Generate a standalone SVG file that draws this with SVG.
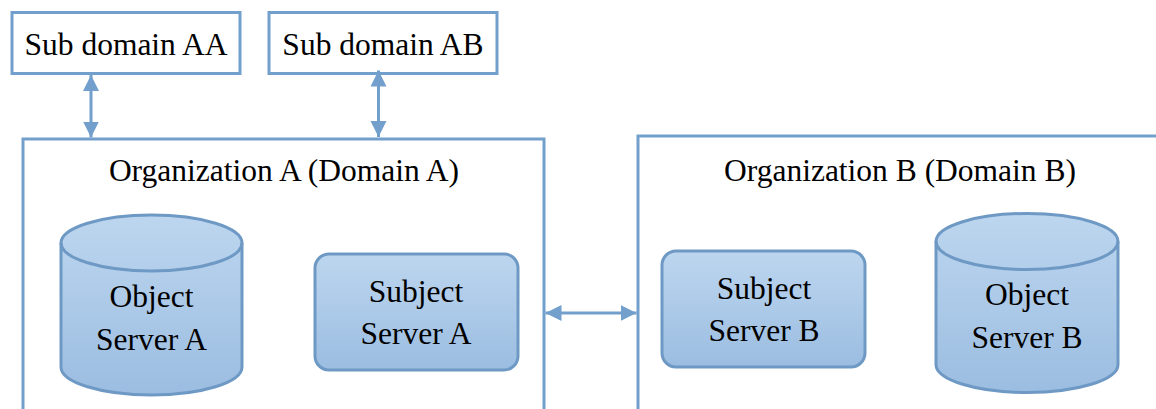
<svg xmlns="http://www.w3.org/2000/svg" width="1156" height="409" viewBox="0 0 1156 409">
<defs>
<linearGradient id="g" x1="0" y1="0" x2="0" y2="1">
<stop offset="0" stop-color="#bdd6ef"/>
<stop offset="1" stop-color="#9bbde1"/>
</linearGradient>
<marker id="ah" markerUnits="userSpaceOnUse" markerWidth="18" markerHeight="18" refX="16" refY="9" orient="auto-start-reverse">
<path d="M0,1 L16,9 L0,17 Z" fill="#729fcb"/>
</marker>
<style>
.box{fill:#fff;stroke:#729fcb;stroke-width:3}
.shape{fill:url(#g);stroke:#6e99c4;stroke-width:3}
.t{font-size:31.5px;fill:#000;text-anchor:middle}
.c{stroke:#729fcb;stroke-width:3;fill:none}
</style>
</defs>
<g font-family="'Liberation Serif', 'Times New Roman', 'DejaVu Serif', serif">
<g id="orgA">
<rect class="box" x="23" y="139" width="521" height="300"/>
<text class="t" x="284" y="181">Organization A (Domain A)</text>
</g>
<g id="orgB">
<rect class="box" x="638" y="136" width="560" height="300"/>
<text class="t" x="900" y="181">Organization B (Domain B)</text>
</g>
<g id="subAA">
<rect class="box" x="12" y="12.5" width="228" height="61"/>
<text class="t" x="126" y="55">Sub domain AA</text>
</g>
<g id="subAB">
<rect class="box" x="269" y="12.5" width="228" height="61"/>
<text class="t" x="383" y="55">Sub domain AB</text>
</g>
<g id="objA">
<path class="shape" d="M61,243 A90.5,28 0 0 1 242,243 L242,367 A90.5,28 0 0 1 61,367 Z"/>
<path class="shape" d="M61,243 A90.5,28 0 0 0 242,243" style="fill:none"/>
<text class="t" x="151.5" y="307">Object</text>
<text class="t" x="151.5" y="350">Server A</text>
</g>
<g id="subjA">
<rect class="shape" x="315" y="254" width="203" height="116" rx="14"/>
<text class="t" x="416" y="302">Subject</text>
<text class="t" x="416" y="344">Server A</text>
</g>
<g id="subjB">
<rect class="shape" x="662" y="251" width="203" height="116" rx="14"/>
<text class="t" x="764" y="299">Subject</text>
<text class="t" x="764" y="341">Server B</text>
</g>
<g id="objB">
<path class="shape" d="M936,241.5 A91,28 0 0 1 1118,241.5 L1118,364.5 A91,28 0 0 1 936,364.5 Z"/>
<path class="shape" d="M936,241.5 A91,28 0 0 0 1118,241.5" style="fill:none"/>
<text class="t" x="1027" y="305">Object</text>
<text class="t" x="1027" y="348">Server B</text>
</g>
</g>
<g id="connectors">
<line class="c" x1="91" y1="75" x2="91" y2="137.5" marker-start="url(#ah)" marker-end="url(#ah)"/>
<line class="c" x1="378.5" y1="70.5" x2="378.5" y2="137" marker-start="url(#ah)" marker-end="url(#ah)"/>
<line class="c" x1="545.5" y1="313" x2="636.5" y2="313" marker-start="url(#ah)" marker-end="url(#ah)"/>
</g>
</svg>
